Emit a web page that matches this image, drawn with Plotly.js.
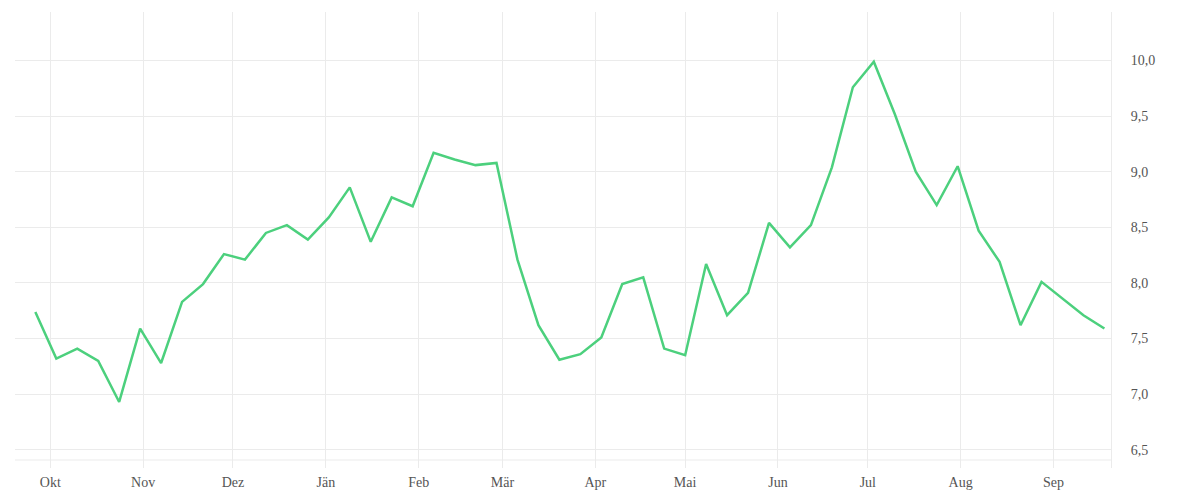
<!DOCTYPE html>
<html>
<head>
<meta charset="utf-8">
<script src="https://cdn.plot.ly/plotly-3.0.1.min.js"></script>
<style>
  body { margin: 0; background: #fff; }
  #chart { width: 1200px; height: 500px; }
</style>
</head>
<body>
<div id="chart"></div>
<script>
// weekly values, Sep 2022 - Sep 2023
const weeks = [
  '2022-09-26', '2022-10-03', '2022-10-10', '2022-10-17', '2022-10-24', '2022-10-31',
  '2022-11-07', '2022-11-14', '2022-11-21', '2022-11-28', '2022-12-05', '2022-12-12',
  '2022-12-19', '2022-12-26', '2023-01-02', '2023-01-09', '2023-01-16', '2023-01-23',
  '2023-01-30', '2023-02-06', '2023-02-13', '2023-02-20', '2023-02-27', '2023-03-06',
  '2023-03-13', '2023-03-20', '2023-03-27', '2023-04-03', '2023-04-10', '2023-04-17',
  '2023-04-24', '2023-05-01', '2023-05-08', '2023-05-15', '2023-05-22', '2023-05-29',
  '2023-06-05', '2023-06-12', '2023-06-19', '2023-06-26', '2023-07-03', '2023-07-10',
  '2023-07-17', '2023-07-24', '2023-07-31', '2023-08-07', '2023-08-14', '2023-08-21',
  '2023-08-28', '2023-09-04', '2023-09-11', '2023-09-18'
];

const values = [
  7.74, 7.32, 7.41, 7.30, 6.93, 7.59,
  7.28, 7.83, 7.99, 8.26, 8.21, 8.45,
  8.52, 8.39, 8.59, 8.86, 8.37, 8.77,
  8.69, 9.17, 9.11, 9.06, 9.08, 8.21,
  7.62, 7.31, 7.36, 7.51, 7.99, 8.05,
  7.41, 7.35, 8.17, 7.71, 7.91, 8.54,
  8.32, 8.52, 9.04, 9.76, 9.99, 9.52,
  9.00, 8.70, 9.05, 8.47, 8.19, 7.62,
  8.01, 7.86, 7.71, 7.59
];

const monthTicks = [
  '2022-10-01', '2022-11-01', '2022-12-01', '2023-01-01', '2023-02-01', '2023-03-01',
  '2023-04-01', '2023-05-01', '2023-06-01', '2023-07-01', '2023-08-01', '2023-09-01'
];
const monthLabels = ['Okt', 'Nov', 'Dez', 'Jän', 'Feb', 'Mär', 'Apr', 'Mai', 'Jun', 'Jul', 'Aug', 'Sep'];

const yTicks = [6.5, 7.0, 7.5, 8.0, 8.5, 9.0, 9.5, 10.0];

const gridColor = '#ebebeb';

const trace = {
  x: weeks,
  y: values,
  type: 'scatter',
  mode: 'lines',
  line: { color: '#4cd07d', width: 2.5 },
  hoverinfo: 'skip'
};

const layout = {
  width: 1200,
  height: 500,
  margin: { l: 15, r: 89, t: 12, b: 32 },
  paper_bgcolor: '#fff',
  plot_bgcolor: '#fff',
  separators: ',.',
  showlegend: false,
  font: { family: 'Liberation Serif, serif', size: 14, color: '#555' },
  xaxis: {
    type: 'date',
    range: ['2022-09-19 05:00', '2023-09-20 05:00'],
    tickvals: monthTicks,
    ticktext: monthLabels,
    showgrid: true,
    gridcolor: gridColor,
    gridwidth: 1,
    zeroline: false,
    showline: false,
    ticks: '',
    ticklabelstandoff: 4
  },
  yaxis: {
    side: 'right',
    range: [6.336, 10.437],
    tickvals: yTicks,
    tickformat: '.1f',
    showgrid: true,
    gridcolor: gridColor,
    gridwidth: 1,
    zeroline: false,
    showline: true,
    linecolor: gridColor,
    linewidth: 1,
    ticks: '',
    ticklabelstandoff: 16
  },
  shapes: [
    {
      type: 'line', xref: 'paper', yref: 'paper',
      x0: 0, x1: 1, y0: 0.0175, y1: 0.0175,
      line: { color: gridColor, width: 1 }
    }
  ]
};

Plotly.newPlot('chart', [trace], layout, { displayModeBar: false, staticPlot: true });
</script>
</body>
</html>
